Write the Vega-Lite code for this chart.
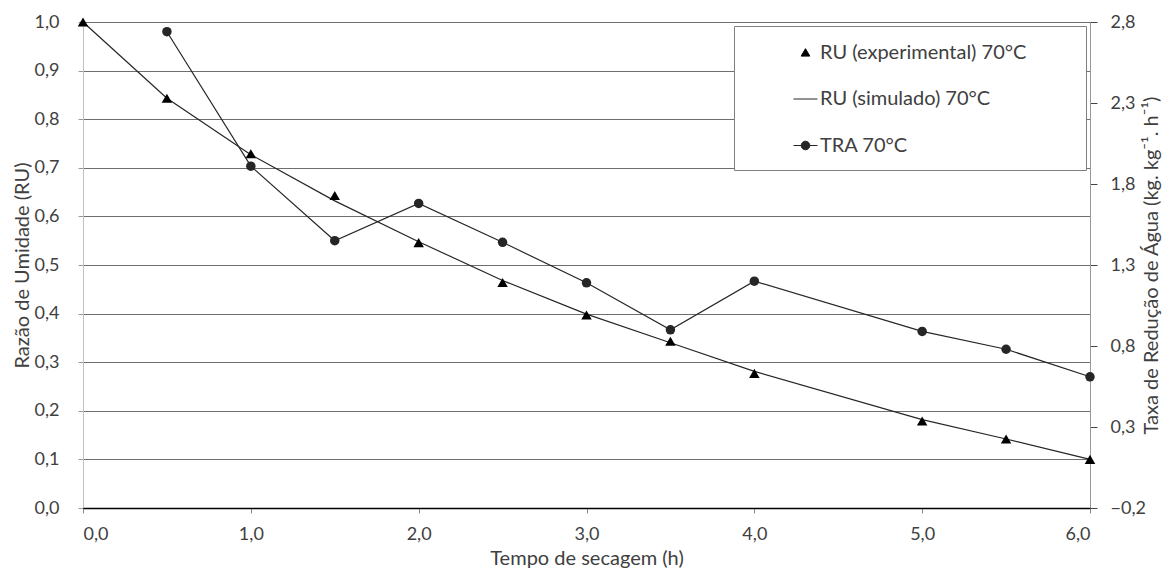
{
  "$schema": "https://vega.github.io/schema/vega-lite/v6.json",
  "width": 1007,
  "height": 486,
  "autosize": {"type": "none"},
  "padding": {"left": 83, "top": 22, "right": 78, "bottom": 60},
  "background": "white",
  "datasets": {
    "ru": [
      {"t": 0.0, "tipo": "exp", "ru": 1.0},
      {"t": 0.5, "tipo": "exp", "ru": 0.843},
      {"t": 1.0, "tipo": "exp", "ru": 0.729},
      {"t": 1.5, "tipo": "exp", "ru": 0.643},
      {"t": 2.0, "tipo": "exp", "ru": 0.546},
      {"t": 2.5, "tipo": "exp", "ru": 0.464},
      {"t": 3.0, "tipo": "exp", "ru": 0.397},
      {"t": 3.5, "tipo": "exp", "ru": 0.343},
      {"t": 4.0, "tipo": "exp", "ru": 0.277},
      {"t": 5.0, "tipo": "exp", "ru": 0.179},
      {"t": 5.5, "tipo": "exp", "ru": 0.142},
      {"t": 6.0, "tipo": "exp", "ru": 0.100},
      {"t": 0.0, "tipo": "sim", "ru": 1.0},
      {"t": 0.5, "tipo": "sim", "ru": 0.843},
      {"t": 1.0, "tipo": "sim", "ru": 0.727},
      {"t": 1.5, "tipo": "sim", "ru": 0.632},
      {"t": 2.0, "tipo": "sim", "ru": 0.548},
      {"t": 2.5, "tipo": "sim", "ru": 0.468},
      {"t": 3.0, "tipo": "sim", "ru": 0.399},
      {"t": 3.5, "tipo": "sim", "ru": 0.340},
      {"t": 4.0, "tipo": "sim", "ru": 0.281},
      {"t": 5.0, "tipo": "sim", "ru": 0.182},
      {"t": 5.5, "tipo": "sim", "ru": 0.142},
      {"t": 6.0, "tipo": "sim", "ru": 0.100}
    ],
    "tra": [
      {"t": 0.5, "tra": 2.74},
      {"t": 1.0, "tra": 1.91},
      {"t": 1.5, "tra": 1.45},
      {"t": 2.0, "tra": 1.68},
      {"t": 2.5, "tra": 1.44},
      {"t": 3.0, "tra": 1.19},
      {"t": 3.5, "tra": 0.90},
      {"t": 4.0, "tra": 1.20},
      {"t": 5.0, "tra": 0.89},
      {"t": 5.5, "tra": 0.78},
      {"t": 6.0, "tra": 0.61}
    ]
  },
  "config": {
    "view": {"stroke": null},
    "font": "Lato",
    "axis": {
      "labelFont": "Lato",
      "titleFont": "Lato",
      "labelColor": "#404040",
      "titleColor": "#404040",
      "titleFontWeight": "normal",
      "labelFontSize": 18,
      "titleFontSize": 20
    }
  },
  "encoding": {
    "x": {
      "field": "t",
      "type": "quantitative",
      "scale": {"domain": [0, 6], "nice": false, "zero": false},
      "axis": {
        "values": [0, 1, 2, 3, 4, 5, 6],
        "labelExpr": "replace(format(datum.value, '.1f'), '.', ',')",
        "title": "Tempo de secagem (h)",
        "grid": false,
        "domainColor": "#000000",
        "domainWidth": 1.3,
        "tickColor": "#888888",
        "tickSize": 5,
        "labelPadding": 12,
        "titlePadding": 5,
        "zindex": 1
      }
    }
  },
  "layer": [
    {
      "data": {"name": "ru"},
      "encoding": {
        "y": {
          "field": "ru",
          "type": "quantitative",
          "scale": {"domain": [0, 1], "nice": false},
          "axis": {
            "values": [0, 0.1, 0.2, 0.3, 0.4, 0.5, 0.6, 0.7, 0.8, 0.9, 1.0],
            "labelExpr": "replace(format(datum.value, '.1f'), '.', ',')",
            "title": "Razão de Umidade (RU)",
            "grid": true,
            "gridColor": "#6e6e6e",
            "gridWidth": 1,
            "domainColor": "#c0c0c0",
            "tickColor": "#999999",
            "tickSize": 5,
            "labelPadding": 19,
            "titlePadding": 2
          }
        }
      },
      "layer": [
        {
          "transform": [{"filter": "datum.tipo === 'sim'"}],
          "mark": {"type": "line", "strokeWidth": 1.2},
          "encoding": {
            "color": {
              "datum": "RU (simulado) 70°C",
              "type": "nominal",
              "scale": {
                "domain": ["RU (experimental) 70°C", "RU (simulado) 70°C", "TRA 70°C"],
                "range": ["#000000", "#262626", "#262626"]
              },
              "legend": {
                "orient": "top-right",
                "offset": 4,
                "title": null,
                "padding": 14,
                "fillColor": "white",
                "strokeColor": "#7f7f7f",
                "symbolSize": 576,
                "symbolStrokeWidth": 1,
                "symbolOpacity": 1,
                "symbolOffset": 45,
                "labelOffset": 2,
                "rowPadding": 23.5,
                "labelFont": "Lato",
                "labelFontSize": 20,
                "labelColor": "#404040",
                "labelLimit": 600,
                "labelExpr": "datum.label + '\u2800\u2800\u2800'",
                "encode": {
                  "symbols": {
                    "update": {
                      "shape": {"signal": "datum.index === 0 ? 'M0,-0.32L0.36,0.3L-0.36,0.3Z' : datum.index === 1 ? 'M-1,0L1,0' : 'M-1,0L1,0M0.36,0A0.36,0.36,0,1,1,-0.36,0A0.36,0.36,0,1,1,0.36,0Z'"},
                      "fill": {"value": "#000000"},
                      "stroke": {"value": "#262626"},
                      "strokeWidth": {"value": 1},
                      "opacity": {"value": 1}
                    }
                  }
                }
              }
            }
          }
        },
        {
          "transform": [{"filter": "datum.tipo === 'exp'"}],
          "mark": {"type": "point", "shape": "triangle-up", "filled": true, "size": 110, "opacity": 1},
          "encoding": {
            "color": {"datum": "RU (experimental) 70°C", "type": "nominal"}
          }
        }
      ]
    },
    {
      "data": {"name": "tra"},
      "mark": {"type": "line", "strokeWidth": 1.2, "point": {"filled": true, "size": 90, "shape": "circle", "opacity": 1}},
      "encoding": {
        "y": {
          "field": "tra",
          "type": "quantitative",
          "scale": {"domain": [-0.2, 2.8], "nice": false, "zero": false},
          "axis": {
            "orient": "right",
            "values": [-0.2, 0.3, 0.8, 1.3, 1.8, 2.3, 2.8],
            "labelExpr": "replace(format(datum.value, '.1f'), '.', ',')",
            "title": "Taxa de Redução de Água (kg. kg⁻¹. h⁻¹)",
            "titleAngle": 270,
            "grid": false,
            "domainColor": "#999999",
            "tickColor": "#444444",
            "tickSize": 7,
            "labelPadding": 13,
            "titlePadding": 16
          }
        },
        "color": {"datum": "TRA 70°C", "type": "nominal"}
      }
    }
  ],
  "resolve": {"scale": {"y": "independent"}}
}
